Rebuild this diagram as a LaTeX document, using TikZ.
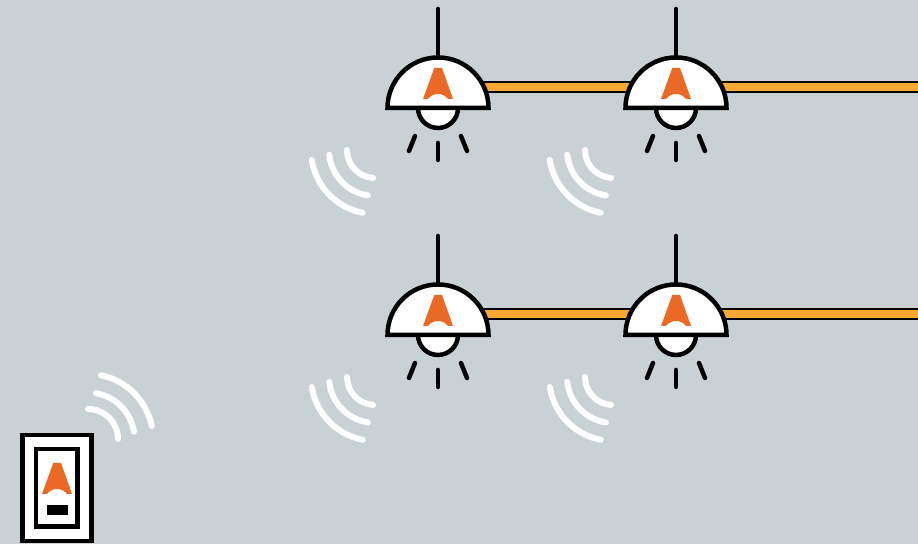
\documentclass[tikz,border=0pt]{standalone}
\usepackage{xcolor}
\definecolor{backdrop}{HTML}{C8D1D4}
\definecolor{conecol}{HTML}{EA6A25}
\definecolor{barcol}{HTML}{FAA834}
\tikzset{inkline/.style={draw=black,line width=.045cm},raystroke/.style={draw=black,line width=.045cm,line cap=round},wavestroke/.style={draw=white,line width=.06cm,line cap=round},conemark/.pic={\fill[conecol] (-.037,.31) -- (.04,.31) -- (.15,0) -- (.10,0) .. controls (.07,.035) and (.04,.05) .. (0,.05) .. controls (-.04,.05) and (-.07,.035) .. (-.10,0) -- (-.15,0) -- cycle;}}
\begin{document}
\begin{tikzpicture}
\useasboundingbox (0,0) rectangle (9.18,5.44);
\fill[backdrop] (0,0) rectangle (9.18,5.44);
% bars behind the lamps
\foreach \ly in {4.57,2.30}{
\fill[barcol] (4.38,\ly-.045) rectangle (9.18,\ly+.045);
\draw[black,line width=.02cm] (4.38,\ly+.05) -- (9.18,\ly+.05);
\draw[black,line width=.02cm] (4.38,\ly-.05) -- (9.18,\ly-.05);
}
% lamps
\foreach \lx in {4.38,6.76}{
\foreach \ly in {4.36,2.09}{
\begin{scope}[shift={(\lx,\ly)}]
\draw[raystroke] (0,.52) -- (0,.99);
\draw[inkline,fill=white] (-.2,0) arc[start angle=180,end angle=360,radius=.2];
\draw[inkline,fill=white,miter limit=10] (-.505,0) arc[start angle=180,end angle=0,radius=.505] -- cycle;
\pic at (0,.09) {conemark};
\draw[raystroke] (0,-.35) -- (0,-.52);
\draw[raystroke] (-.23,-.28) -- (-.29,-.43);
\draw[raystroke] (.23,-.28) -- (.29,-.43);
\draw[wavestroke] (-.63,-.42) ++(189:.64) arc[start angle=189,end angle=259,radius=.64];
\draw[wavestroke] (-.63,-.42) ++(186:.46) arc[start angle=186,end angle=261,radius=.46];
\draw[wavestroke] (-.63,-.42) ++(180:.28) arc[start angle=180,end angle=266,radius=.28];
\end{scope}
}}
% switch
\draw[inkline,fill=white] (.225,.03) rectangle (.915,1.09);
\draw[inkline,fill=white] (.362,.175) rectangle (.774,.95);
\pic at (.57,.50) {conemark};
\fill[black] (.47,.285) rectangle (.68,.39);
\draw[wavestroke] (.88,1.05) ++(78.5:.65) arc[start angle=78.5,end angle=11.5,radius=.65];
\draw[wavestroke] (.88,1.05) ++(80:.465) arc[start angle=80,end angle=9,radius=.465];
\draw[wavestroke] (.88,1.05) ++(90:.30) arc[start angle=90,end angle=0,radius=.30];
\end{tikzpicture}
\end{document}
